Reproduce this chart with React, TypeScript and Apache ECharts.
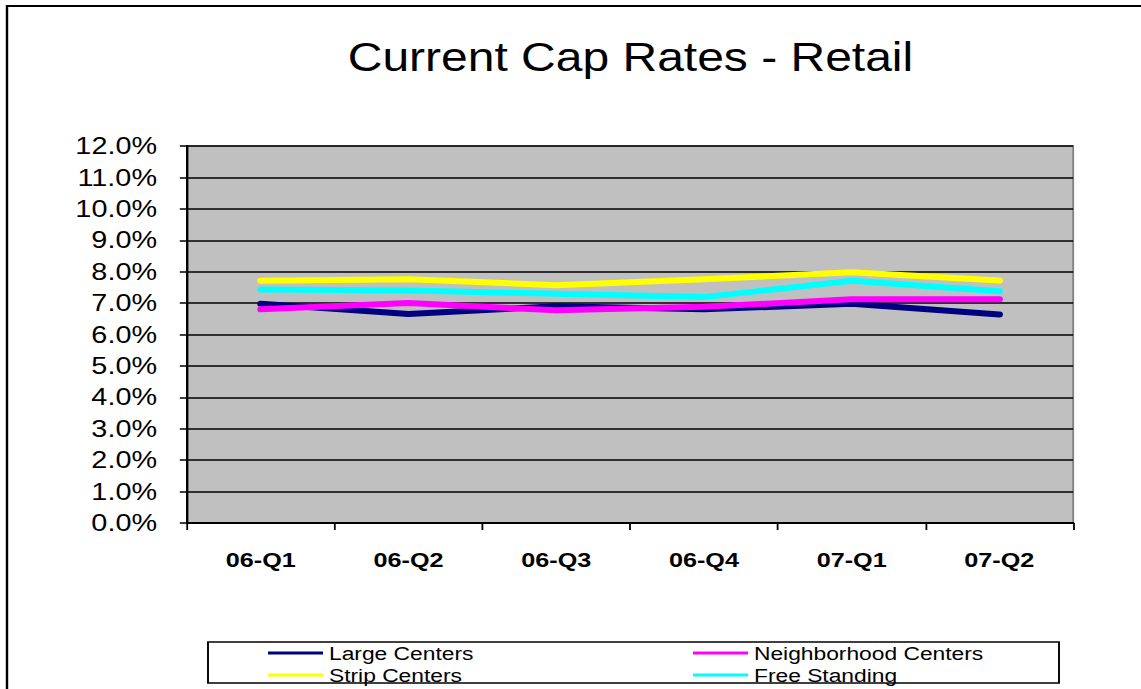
import React, { useEffect, useRef } from "react";
import * as echarts from "echarts";

const categories = ["06-Q1", "06-Q2", "06-Q3", "06-Q4", "07-Q1", "07-Q2"];
const largeCenters = [6.98, 6.65, 6.9, 6.8, 6.98, 6.64];
const neighborhoodCenters = [6.8, 7.0, 6.77, 6.88, 7.12, 7.12];
const stripCenters = [7.71, 7.76, 7.57, 7.76, 7.98, 7.72];
const freeStanding = [7.43, 7.4, 7.3, 7.19, 7.71, 7.38];
const seriesNames = ["Large Centers", "Neighborhood Centers", "Strip Centers", "Free Standing"];
const seriesColors = ["#000080", "#FF00FF", "#FFFF00", "#00FFFF"];
const titleText = "Current Cap Rates - Retail";

const SX = 1.2;
const W = 1141 / SX;
const H = 689;
const FONT = "'Liberation Sans', Arial, Helvetica, sans-serif";

export default function App() {
  const ref = useRef<HTMLDivElement>(null);
  useEffect(() => {
    if (!ref.current) return;
    const chart = echarts.init(ref.current, null, { renderer: "svg" });
    const values = [largeCenters, neighborhoodCenters, stripCenters, freeStanding];
    const legendItem = (name: string, i: number) => ({
      name,
      itemStyle: { color: seriesColors[i] },
    });
    const legendBase = {
      orient: "vertical",
      top: 642,
      padding: 0,
      itemGap: 0,
      itemWidth: 55 / SX,
      itemHeight: 3,
      icon: "rect",
      textStyle: { fontFamily: FONT, fontSize: 19, lineHeight: 22, color: "#000" },
    };
    chart.setOption({
      animation: false,
      backgroundColor: "#ffffff",
      title: {
        text: titleText,
        left: 525.4,
        textAlign: "center",
        top: 37,
        padding: 0,
        textStyle: { fontFamily: FONT, fontSize: 40, fontWeight: "normal", color: "#000" },
      },
      graphic: [
        {
          type: "rect",
          shape: { x: 7 / SX, y: 6, width: 2000, height: 2000 },
          style: { fill: "none", stroke: "#000", lineWidth: 2 },
          silent: true,
          z: -10,
        },
        {
          type: "rect",
          shape: { x: 208 / SX, y: 642, width: (1059 - 208) / SX, height: 41 },
          style: { fill: "#fff", stroke: "#000", lineWidth: 1.6 },
          silent: true,
          z: -5,
        },
      ],
      legend: [
        {
          ...legendBase,
          left: 268 / SX,
          data: [legendItem(seriesNames[0], 0), legendItem(seriesNames[2], 2)],
        },
        {
          ...legendBase,
          left: 693 / SX,
          data: [legendItem(seriesNames[1], 1), legendItem(seriesNames[3], 3)],
        },
      ],
      grid: {
        left: 187 / SX,
        right: W - 1073 / SX,
        top: 146,
        bottom: H - 523,
        show: true,
        backgroundColor: "#C0C0C0",
        borderColor: "#808080",
        borderWidth: 1.5,
        containLabel: false,
      },
      xAxis: {
        type: "category",
        data: categories,
        boundaryGap: true,
        axisLine: { show: true, lineStyle: { color: "#000", width: 2 } },
        axisTick: { show: true, length: 7, lineStyle: { color: "#000", width: 1.5 } },
        axisLabel: {
          margin: 26,
          fontFamily: FONT,
          fontSize: 21,
          fontWeight: "bold",
          color: "#000",
        },
        splitLine: { show: false },
      },
      yAxis: {
        type: "value",
        min: 0,
        max: 12,
        interval: 1,
        axisLine: { show: true, lineStyle: { color: "#000", width: 2 } },
        axisTick: { show: true, length: 6, lineStyle: { color: "#000", width: 1.5 } },
        axisLabel: {
          margin: 25,
          fontFamily: FONT,
          fontSize: 24,
          color: "#000",
          formatter: (v: number) => v.toFixed(1) + "%",
        },
        splitLine: { show: true, lineStyle: { color: "#000", width: 1.5 } },
      },
      series: seriesNames.map((name, i) => ({
        name,
        type: "line",
        data: values[i],
        symbol: "none",
        color: seriesColors[i],
        lineStyle: { color: seriesColors[i], width: 6, cap: "round", join: "round" },
        z: 2 + i,
      })),
    });
    return () => chart.dispose();
  }, []);
  return (
    <div
      ref={ref}
      style={{
        position: "absolute",
        left: 0,
        top: 0,
        width: W,
        height: H,
        transform: `scaleX(${SX})`,
        transformOrigin: "0 0",
      }}
    />
  );
}
